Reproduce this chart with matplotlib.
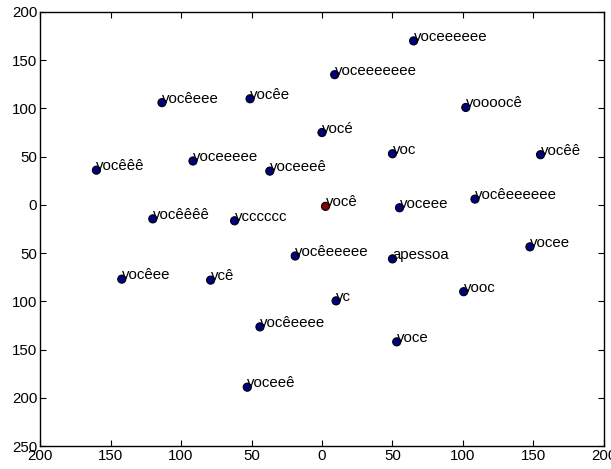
import matplotlib
matplotlib.use("Agg")
import matplotlib.pyplot as plt

words = ["voceeeeee", "voceeeeeee", "vocêeee", "vocêe", "voooocê", "vocé", "voc",
         "vocêê", "vocêêê", "voceeeee", "voceeeê", "você", "voceee", "vocêeeeeee",
         "vocêêêê", "vcccccc", "vocêeeeee", "apessoa", "vocee", "vocêee", "vcê",
         "vc", "vooc", "vocêeeee", "voce", "voceeê"]
xs = [65, 9, -113.5, -51, 102, 0, 50, 155, -160, -91.5, -37, 2.5, 55, 108.5,
      -120, -62, -19, 50, 147.5, -142, -79, 10, 100.5, -44, 53, -53]
ys = [170, 135, 106, 110, 101, 75, 53, 52, 36, 45.5, 35, -1.5, -3, 6,
      -14.5, -16.5, -53, -56, -43.5, -77, -78, -99.5, -90, -126.5, -142, -189]
highlight = "você"

xticks = [-200, -150, -100, -50, 0, 50, 100, 150, 200]
xticklabels = ["200", "150", "100", "50", "0", "50", "100", "150", "200"]
yticks = [-250, -200, -150, -100, -50, 0, 50, 100, 150, 200]
yticklabels = ["250", "200", "150", "100", "50", "0", "50", "100", "150", "200"]

plt.rcParams['font.family'] = ['Liberation Sans', 'DejaVu Sans']
fig = plt.figure(figsize=(6.11, 4.69), dpi=100)
ax = fig.add_axes([0.0655, 0.049, 0.923, 0.9255])

colors = ['#8b0000' if w == highlight else '#000080' for w in words]
ax.scatter(xs, ys, s=34, c=colors, edgecolors='black', linewidths=0.8, zorder=3)
for w, x, y in zip(words, xs, ys):
    ax.annotate(w, (x, y), fontsize=10.8, ha='left', va='baseline')

ax.set_xlim(-200, 200)
ax.set_ylim(-250, 200)
ax.set_xticks(xticks)
ax.set_xticklabels(xticklabels)
ax.set_yticks(yticks)
ax.set_yticklabels(yticklabels)
ax.tick_params(direction='in', top=True, right=True, length=4, width=0.8,
               labelsize=10.8, pad=2)
for sp in ax.spines.values():
    sp.set_linewidth(1.0)

fig.savefig("out.png", dpi=100)
